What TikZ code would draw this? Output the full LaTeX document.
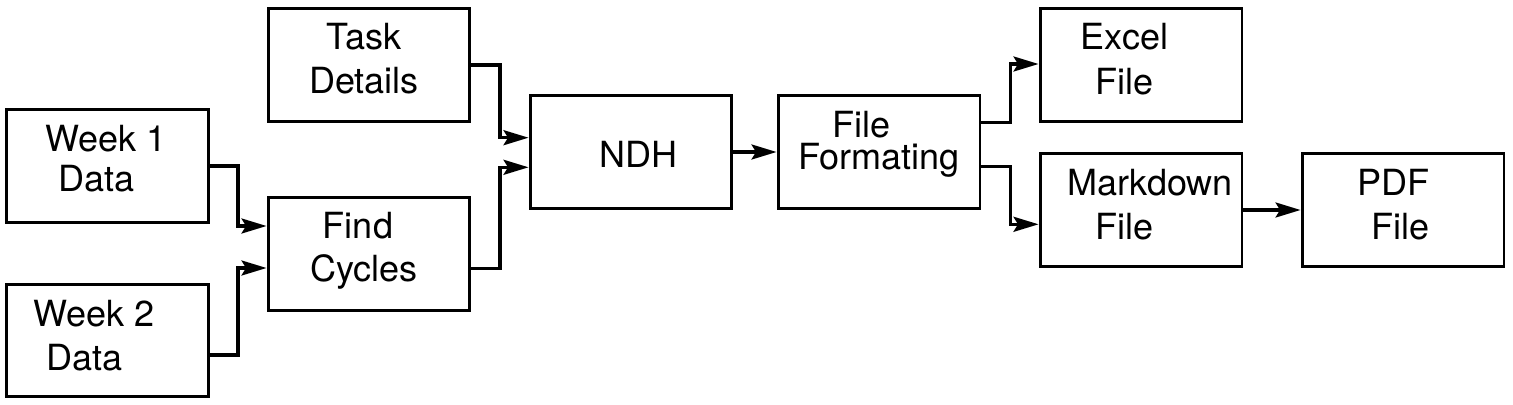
\documentclass[tikz,border=0pt]{standalone}
\usepackage{fontspec}
\setmainfont{TeX Gyre Heros}
\usetikzlibrary{arrows.meta}
\begin{document}
\begin{tikzpicture}[x=0.02cm, y=-0.02cm,
  blk/.style={draw, line width=1.7pt, minimum width=4.04cm, minimum height=2.26cm, inner sep=0pt},
  txt/.style={anchor=base, inner sep=0pt, font=\fontsize{20.5}{25}\selectfont},
  arr/.style={line width=1.8pt, -{Stealth[length=0.5cm, width=0.3cm, inset=0.09cm]}}]
\useasboundingbox (0,0) rectangle (1513,405);
% boxes
\node[blk] (wk1)  at (107.5,166)  {};
\node[blk] (wk2)  at (107.5,340.5) {};
\node[blk] (task) at (369,65)     {};
\node[blk] (find) at (369,254)    {};
\node[blk] (ndh)  at (631,152)    {};
\node[blk] (fmt)  at (879,152)    {};
\node[blk] (xls)  at (1141,65)    {};
\node[blk] (md)   at (1141,210)   {};
\node[blk] (pdf)  at (1403,210)   {};
% labels
\node[txt] (wk1a)  at (106,151.3)  {Week 1};
\node[txt] (wk1b)  at (96.5,191.3) {Data};
\node[txt] (wk2a)  at (94.3,326.7) {Week 2};
\node[txt] (wk2b)  at (84.3,370.7) {Data};
\node[txt] (taska) at (364,50)     {Task};
\node[txt] (taskb) at (364,94)     {Details};
\node[txt] (finda) at (358,238.3)  {Find};
\node[txt] (findb) at (364,281.7)  {Cycles};
\node[txt] (ndha)  at (638,167.3)  {NDH};
\node[txt] (fmta)  at (861,137.3)  {File};
\node[txt] (fmtb)  at (879,170)    {Formating};
\node[txt] (xlsa)  at (1124.5,50)  {Excel};
\node[txt] (xlsb)  at (1124.5,94.3) {File};
\node[txt] (mda)   at (1150,195)   {Markdown};
\node[txt] (mdb)   at (1124,239.3) {File};
\node[txt] (pdfa)  at (1393,195)   {PDF};
\node[txt] (pdfb)  at (1400,239.3) {File};
% connectors
\draw[arr] (wk1.east) -| (238,226) -- (find.west |- 0,226);
\draw[arr] (wk2.east |- 0,355) -| (238,268) -- (find.west |- 0,268);
\draw[arr] (task.east) -| (500,137.7) -- (ndh.west |- 0,137.7);
\draw[arr] (find.east |- 0,268.3) -| (500,167.3) -- (ndh.west |- 0,167.3);
\draw[arr] (ndh) -- (fmt);
\draw[arr] (fmt.east |- 0,122.7) -| (1010.7,64) -- (xls.west |- 0,64);
\draw[arr] (fmt.east |- 0,166.7) -| (1010.7,224.3) -- (md.west |- 0,224.3);
\draw[arr] (md) -- (pdf);
\end{tikzpicture}
\end{document}
